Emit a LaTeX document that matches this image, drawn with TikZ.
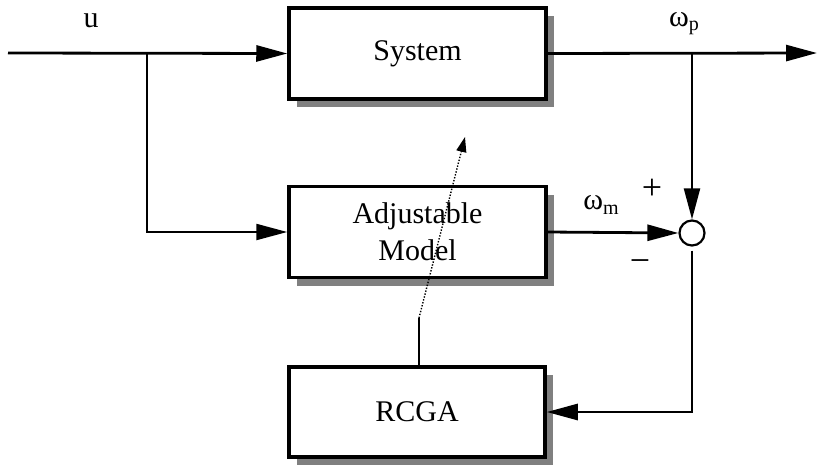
\documentclass[tikz,border=0pt]{standalone}
\usepackage{fontspec}
\setmainfont{Liberation Serif}
\usetikzlibrary{arrows.meta,shadows}
\begin{document}
\begin{tikzpicture}[x=1pt,y=-1pt,
  blk/.style={draw, line width=3.5pt, fill=white, minimum width=257pt, minimum height=91pt,
    inner sep=0pt, align=center, font=\fontsize{30}{37}\selectfont,
    drop shadow={shadow xshift=8pt, shadow yshift=-8pt, fill=gray, opacity=1}},
  sig/.style={line width=2.8pt, -{Triangle[length=31pt,width=16pt]}},
  lbl/.style={font=\fontsize{30}{34}\selectfont, inner sep=0pt},
  sgn/.style={font=\fontsize{36}{36}\selectfont, inner sep=0pt},
]
\useasboundingbox (0,0) rectangle (818,466);

\node[blk] (sys) at (417.5,53.5) {System};
\node[blk] (adj) at (417.5,232) {Adjustable\\Model};
\node[blk, minimum width=256pt, minimum height=90pt] (rcga) at (417,412) {RCGA};
\node[draw, circle, line width=2.2pt, minimum size=25pt, inner sep=0pt] (sum) at (692,233) {};

\coordinate (in) at (8,53);
\coordinate (br) at (147,53);
\coordinate (out) at (817,53);
\coordinate (br2) at (692,53);
\coordinate (bend) at (419,318);
\coordinate (tip) at (465,137);

\draw[sig] (in) -- (sys.west);
\draw[sig, line width=2.2pt] (br) |- (adj.west);
\draw[sig] (sys.east) -- (out);
\draw[sig, line width=2.2pt] (br2) -- (sum.north);
\draw[sig] (adj.east) -- (sum.west);
\draw[sig, shorten <=4pt] (sum.south) |- (rcga.east);

\draw[line width=1.4pt] (rcga.north -| bend) -- (bend);
\draw[line width=1.4pt, dash pattern=on 1.4pt off 1.6pt, -{Triangle[length=15pt,width=10pt]}] (bend) -- (tip);

\node[lbl] (u) at (91,21) {u};
\node[lbl] (wp) at (684,24) {ω\raisebox{-0.3ex}{\fontsize{20}{20}\selectfont p}};
\node[lbl] (wm) at (601,205) {ω\raisebox{-0.3ex}{\fontsize{20}{20}\selectfont m}};
\node[sgn] (plus) at (652,189) {+};
\node[sgn] (minus) at (640,266) {−};
\end{tikzpicture}
\end{document}
